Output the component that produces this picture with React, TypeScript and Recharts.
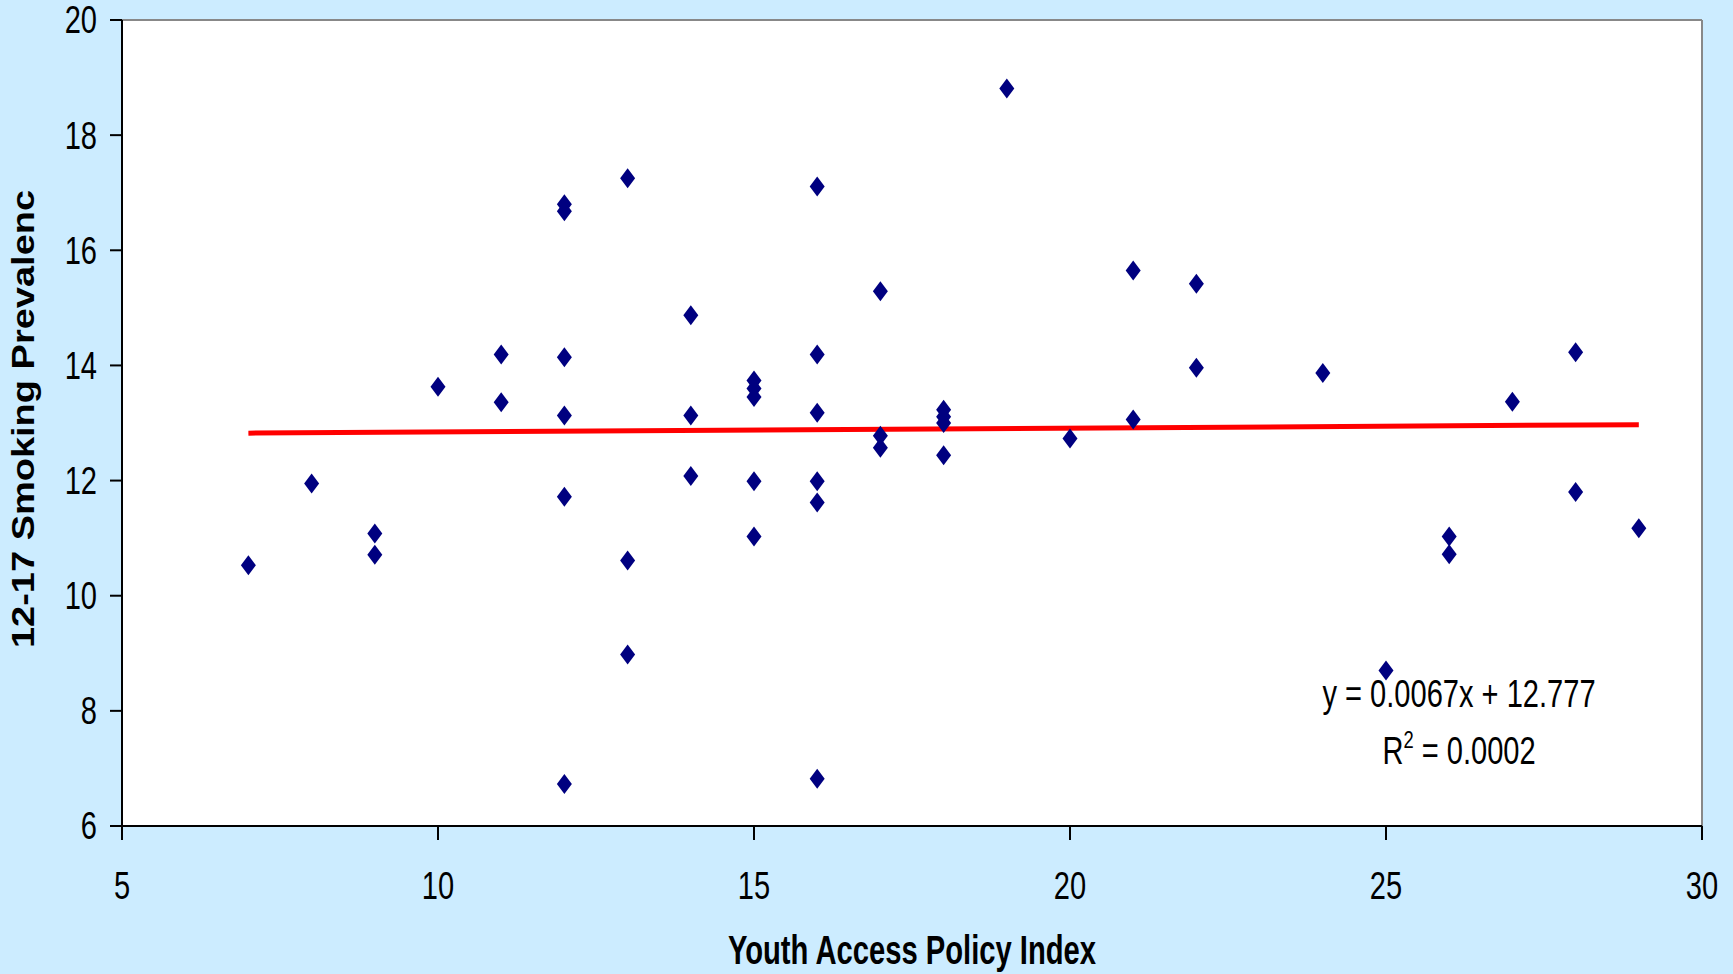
import React from "react";
import {
  ScatterChart,
  Scatter,
  XAxis,
  YAxis,
  CartesianGrid,
  ReferenceLine,
} from "recharts";

// Youth Access Policy Index per state
const policyIndex = [
  7, 8, 9, 9, 10, 11, 11, 12, 12, 12, 12, 12, 12, 13, 13, 13, 14, 14, 14,
  15, 15, 15, 15, 15, 16, 16, 16, 16, 16, 16, 17, 17, 17, 18, 18, 18, 18,
  19, 20, 21, 21, 22, 22, 24, 25, 26, 26, 27, 28, 28, 29,
];

// 12-17 smoking prevalence, same order
const prevalence = [
  10.53, 11.95, 11.08, 10.71, 13.63, 14.19, 13.36, 16.8, 16.68, 14.14, 13.13,
  11.72, 6.73, 17.25, 10.61, 8.98, 14.87, 13.13, 12.08, 13.74, 13.6, 13.45,
  11.99, 11.03, 17.11, 14.19, 13.18, 11.99, 11.62, 6.82, 15.29, 12.78, 12.57,
  13.23, 13.11, 13.0, 12.44, 18.81, 12.73, 15.65, 13.06, 15.42, 13.96, 13.87,
  8.7, 11.03, 10.72, 13.37, 14.23, 11.8, 11.17,
];

// linear trend y = 0.0067x + 12.777, drawn between first and last x
const trendX = [7, 29];
const trendY = [12.824, 12.971];

const xTicks = [5, 10, 15, 20, 25, 30];
const yTicks = [6, 8, 10, 12, 14, 16, 18, 20];

const points = policyIndex.map((x, i) => ({ x, y: prevalence[i] }));
const trend = trendX.map((x, i) => ({ x, y: trendY[i] }));

const FONT = '"Liberation Sans", Arial, sans-serif';
const SQUEEZE = 0.765;

const Diamond = (props: any) => {
  const { cx, cy } = props;
  if (cx == null || cy == null) return <g />;
  return (
    <polygon
      points={`${cx},${cy - 10} ${cx + 7.5},${cy} ${cx},${cy + 10} ${cx - 7.5},${cy}`}
      fill="#000080"
    />
  );
};

const NoDot = () => <g />;

const YTick = (props: any) => {
  const { x, y, payload } = props;
  return (
    <text
      transform={`translate(${x},${y}) scale(${SQUEEZE},1)`}
      textAnchor="end"
      dy="0.355em"
      fontFamily={FONT}
      fontSize={38}
      fill="#000"
    >
      {payload.value}
    </text>
  );
};

const XTick = (props: any) => {
  const { x, y, payload } = props;
  return (
    <text
      transform={`translate(${x},${y}) scale(${SQUEEZE},1)`}
      textAnchor="middle"
      dy="0.71em"
      fontFamily={FONT}
      fontSize={38}
      fill="#000"
    >
      {payload.value}
    </text>
  );
};

export default function App() {
  return (
    <div
      style={{
        position: "absolute",
        left: 0,
        top: 0,
        width: 1733,
        height: 974,
        background: "#CCECFF",
        overflow: "hidden",
      }}
    >
      <ScatterChart
        width={1733}
        height={974}
        margin={{ top: 20, right: 31, left: 0, bottom: 0 }}
      >
        <CartesianGrid fill="#ffffff" stroke="none" horizontal={false} vertical={false} />
        <XAxis
          type="number"
          dataKey="x"
          domain={[5, 30]}
          ticks={xTicks}
          interval={0}
          height={148}
          tickSize={14}
          tickMargin={32}
          axisLine={{ stroke: "#000", strokeWidth: 2 }}
          tickLine={{ stroke: "#000", strokeWidth: 2 }}
          tick={<XTick />}
        />
        <YAxis
          type="number"
          dataKey="y"
          domain={[6, 20]}
          ticks={yTicks}
          interval={0}
          width={122}
          tickSize={12}
          tickMargin={13}
          axisLine={{ stroke: "#000", strokeWidth: 2 }}
          tickLine={{ stroke: "#000", strokeWidth: 2 }}
          tick={<YTick />}
        />
        <ReferenceLine y={20} stroke="#888888" strokeWidth={2} />
        <ReferenceLine x={30} stroke="#888888" strokeWidth={2} />
        <Scatter
          data={trend}
          line={{ stroke: "#FF0000", strokeWidth: 5 }}
          shape={<NoDot />}
          isAnimationActive={false}
        />
        <Scatter data={points} shape={<Diamond />} isAnimationActive={false} />
        <text
          transform={`translate(1459,707) scale(${SQUEEZE},1)`}
          textAnchor="middle"
          fontFamily={FONT}
          fontSize={38}
          fill="#000"
        >
          y = 0.0067x + 12.777
        </text>
        <text
          transform={`translate(1459,764) scale(${SQUEEZE},1)`}
          textAnchor="middle"
          fontFamily={FONT}
          fontSize={38}
          fill="#000"
        >
          R
          <tspan fontSize={24} dy={-16}>
            2
          </tspan>
          <tspan dy={16}> = 0.0002</tspan>
        </text>
        <text
          transform={`translate(912,964) scale(0.73,1)`}
          textAnchor="middle"
          fontFamily={FONT}
          fontSize={40}
          fontWeight="bold"
          fill="#000"
        >
          Youth Access Policy Index
        </text>
        <text
          transform={`translate(34,419) rotate(-90) scale(1,0.84)`}
          textAnchor="middle"
          fontFamily={FONT}
          fontSize={38}
          fontWeight="bold"
          fill="#000"
        >
          12-17 Smoking Prevalenc
        </text>
      </ScatterChart>
    </div>
  );
}
